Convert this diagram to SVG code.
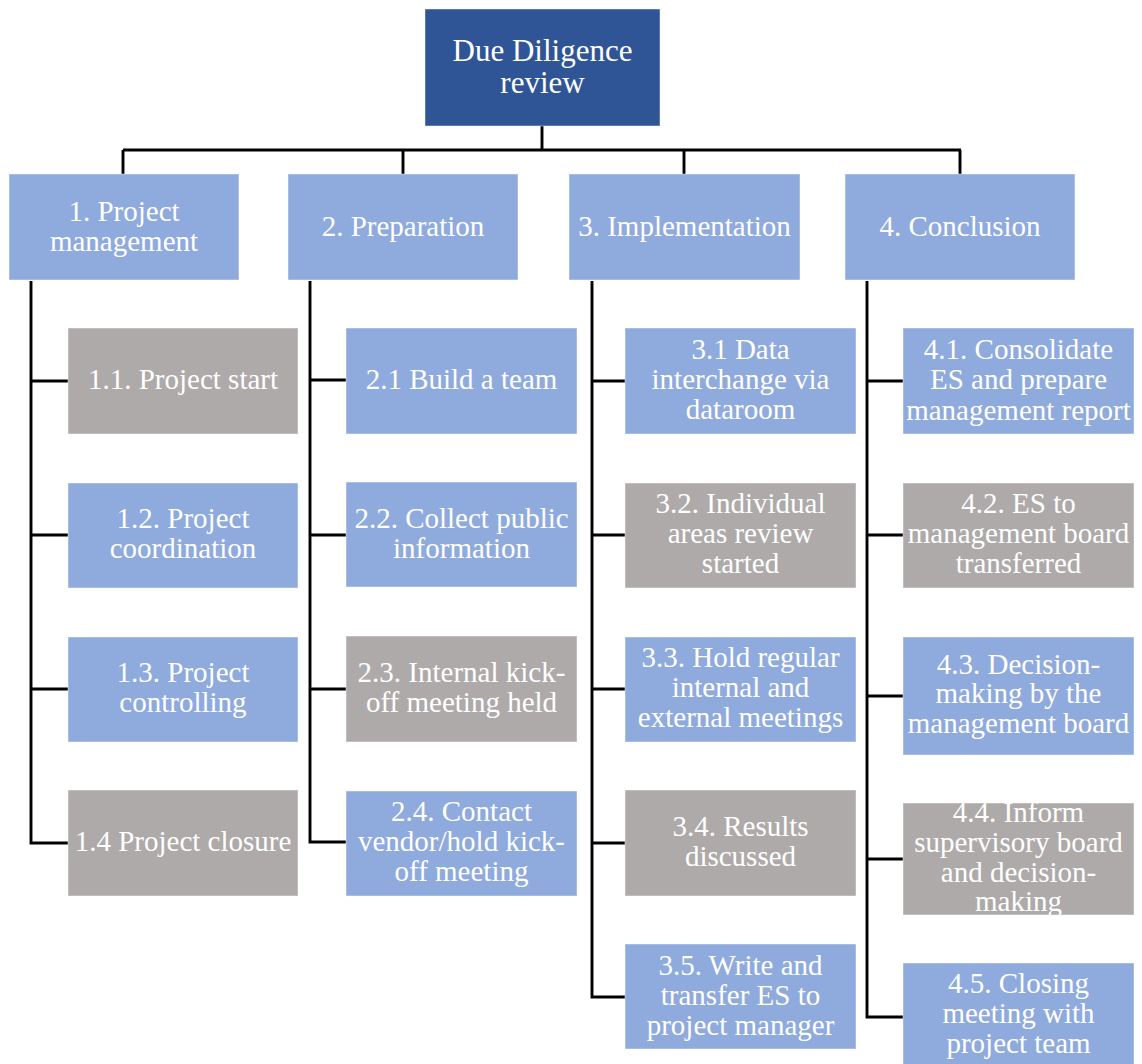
<svg xmlns="http://www.w3.org/2000/svg" width="1142" height="1064" viewBox="0 0 1142 1064">
<style>
rect{stroke:#ffffff;stroke-opacity:0.45;stroke-width:1}
.top{fill:#2F5597}
.blue{fill:#8FAADC}
.gray{fill:#AEAAAA}
text{font-family:"Liberation Serif","Times New Roman",serif;font-size:29px;fill:#ffffff;text-anchor:middle}
.tt{font-size:31px}
.conn{fill:none;stroke:#000000;stroke-width:2.9}
</style>
<rect width="1142" height="1064" fill="#ffffff" stroke="none"/>
<g id="connectors" class="conn">
<path d="M542 126V150M123 150H961M123 150V174M403 150V174M684 150V174M960 150V174"/>
<path d="M31 281V843H68M31 381H68M31 535H68M31 689H68"/>
<path d="M310 281V842H346M310 380H346M310 535H346M310 689H346"/>
<path d="M592 281V997H625M592 381H625M592 535H625M592 689H625M592 843H625"/>
<path d="M867 281V1017H903M867 381H903M867 535H903M867 696H903M867 859H903"/>
</g>
<g id="n0"><rect class="top" x="425" y="9" width="235" height="117"/><text class="tt" x="542.5"><tspan x="542.5" y="61">Due Diligence</tspan><tspan x="542.5" y="93">review</tspan></text></g>
<g id="n1"><rect class="blue" x="9" y="174" width="230" height="106"/><text><tspan x="124" y="221">1. Project</tspan><tspan x="124" y="251">management</tspan></text></g>
<g id="n2"><rect class="blue" x="288" y="174" width="230" height="106"/><text x="403" y="236">2. Preparation</text></g>
<g id="n3"><rect class="blue" x="569" y="174" width="231" height="106"/><text x="684.5" y="236">3. Implementation</text></g>
<g id="n4"><rect class="blue" x="845" y="174" width="230" height="106"/><text x="960" y="236">4. Conclusion</text></g>

<g id="n1_1"><rect class="gray" x="68" y="328" width="230" height="106"/><text x="183" y="389">1.1. Project start</text></g>
<g id="n1_2"><rect class="blue" x="68" y="483" width="230" height="105"/><text><tspan x="183" y="528">1.2. Project</tspan><tspan x="183" y="558">coordination</tspan></text></g>
<g id="n1_3"><rect class="blue" x="68" y="637" width="230" height="105"/><text><tspan x="183" y="682">1.3. Project</tspan><tspan x="183" y="712">controlling</tspan></text></g>
<g id="n1_4"><rect class="gray" x="68" y="790" width="230" height="106"/><text x="183" y="851">1.4 Project closure</text></g>

<g id="n2_1"><rect class="blue" x="346" y="328" width="231" height="106"/><text x="461.5" y="389">2.1 Build a team</text></g>
<g id="n2_2"><rect class="blue" x="346" y="482" width="231" height="105"/><text><tspan x="461.5" y="528">2.2. Collect public</tspan><tspan x="461.5" y="558">information</tspan></text></g>
<g id="n2_3"><rect class="gray" x="346" y="636" width="231" height="106"/><text><tspan x="461.5" y="682">2.3. Internal kick-</tspan><tspan x="461.5" y="712">off meeting held</tspan></text></g>
<g id="n2_4"><rect class="blue" x="346" y="791" width="231" height="105"/><text><tspan x="461.5" y="821">2.4. Contact</tspan><tspan x="461.5" y="851">vendor/hold kick-</tspan><tspan x="461.5" y="881">off meeting</tspan></text></g>

<g id="n3_1"><rect class="blue" x="625" y="328" width="231" height="106"/><text><tspan x="740.5" y="359">3.1 Data</tspan><tspan x="740.5" y="389">interchange via</tspan><tspan x="740.5" y="419">dataroom</tspan></text></g>
<g id="n3_2"><rect class="gray" x="625" y="483" width="231" height="105"/><text><tspan x="740.5" y="513">3.2. Individual</tspan><tspan x="740.5" y="543">areas review</tspan><tspan x="740.5" y="573">started</tspan></text></g>
<g id="n3_3"><rect class="blue" x="625" y="637" width="231" height="105"/><text><tspan x="740.5" y="667">3.3. Hold regular</tspan><tspan x="740.5" y="697">internal and</tspan><tspan x="740.5" y="727">external meetings</tspan></text></g>
<g id="n3_4"><rect class="gray" x="625" y="790" width="231" height="106"/><text><tspan x="740.5" y="836">3.4. Results</tspan><tspan x="740.5" y="866">discussed</tspan></text></g>
<g id="n3_5"><rect class="blue" x="625" y="944" width="231" height="105"/><text><tspan x="740.5" y="975">3.5. Write and</tspan><tspan x="740.5" y="1005">transfer ES to</tspan><tspan x="740.5" y="1035">project manager</tspan></text></g>

<g id="n4_1"><rect class="blue" x="903" y="328" width="231" height="106"/><text><tspan x="1018.5" y="359">4.1. Consolidate</tspan><tspan x="1018.5" y="389">ES and prepare</tspan><tspan x="1018.5" y="420">management report</tspan></text></g>
<g id="n4_2"><rect class="gray" x="903" y="483" width="231" height="105"/><text><tspan x="1018.5" y="513">4.2. ES to</tspan><tspan x="1018.5" y="543">management board</tspan><tspan x="1018.5" y="573">transferred</tspan></text></g>
<g id="n4_3"><rect class="blue" x="903" y="637" width="231" height="118"/><text><tspan x="1018.5" y="674">4.3. Decision-</tspan><tspan x="1018.5" y="703">making by the</tspan><tspan x="1018.5" y="733">management board</tspan></text></g>
<g id="n4_4"><rect class="gray" x="903" y="803" width="231" height="112"/><text><tspan x="1018.5" y="822">4.4. Inform</tspan><tspan x="1018.5" y="852">supervisory board</tspan><tspan x="1018.5" y="882">and decision-</tspan><tspan x="1018.5" y="911">making</tspan></text></g>
<g id="n4_5"><rect class="blue" x="903" y="963" width="231" height="106"/><text><tspan x="1018.5" y="993">4.5. Closing</tspan><tspan x="1018.5" y="1023">meeting with</tspan><tspan x="1018.5" y="1053">project team</tspan></text></g>
</svg>
